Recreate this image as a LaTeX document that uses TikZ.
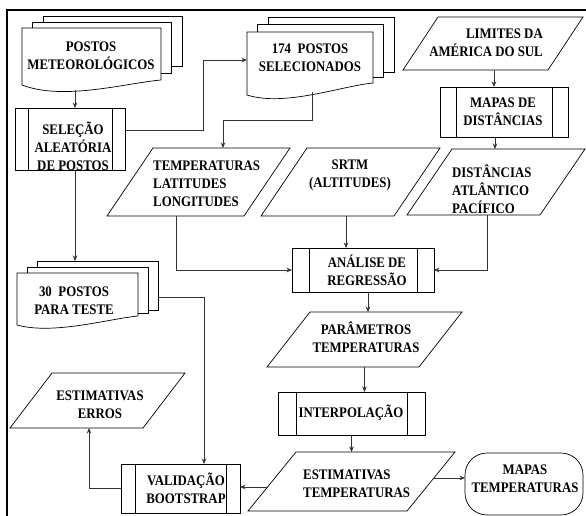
\documentclass[tikz,border=0pt]{standalone}
\usepackage{fontspec}
\setmainfont{Liberation Serif}[FakeStretch=0.88]
\usetikzlibrary{calc,arrows.meta}
\tikzset{
 ln/.style={draw=black, line width=0.7pt},
 shp/.style={inner sep=0pt, outer sep=0pt},
 txt/.style={inner sep=0pt, font=\bfseries\fontsize{14.6}{18}\selectfont},
 arr/.style={draw=black!80, line width=0.6pt, -{Stealth[length=5.5pt,width=4.5pt]}},
}
% multi-document outline: name, dx, dy, right drop, step, wave depth
\newcommand\mdoc[6]{%
 \draw[ln] ([xshift=2*#2,yshift=#3]#1.north west) -- ([xshift=2*#2,yshift=2*#3]#1.north west) -- ([xshift=2*#2,yshift=2*#3]#1.north east) -- ([xshift=2*#2,yshift=#4+2*#5]#1.south east) -- ([xshift=#2,yshift=#4+2*#5]#1.south east);
 \draw[ln] ([xshift=#2]#1.north west) -- ([xshift=#2,yshift=#3]#1.north west) -- ([xshift=#2,yshift=#3]#1.north east) -- ([xshift=#2,yshift=#4+#5]#1.south east) -- ([yshift=#4+#5]#1.south east);
 \draw[ln] (#1.north west) -- (#1.north east) -- ([yshift=#4]#1.south east)
   .. controls ($(#1.south west)!0.75!(#1.south east)+(0pt,#4-3pt)$) and ($(#1.south west)!0.3!(#1.south east)+(0pt,-#6)$) .. (#1.south west) -- cycle;}
% parallelogram outline: name, slant
\newcommand\para[2]{%
 \draw[ln] ([xshift=#2]#1.north west) -- (#1.north east) -- ([xshift=-#2]#1.south east) -- (#1.south west) -- cycle;}
% predefined process bars: name, offset
\newcommand\proc[2]{%
 \draw[ln] ([xshift=#2]#1.north west) -- ([xshift=#2]#1.south west);
 \draw[ln] ([xshift=-#2]#1.north east) -- ([xshift=-#2]#1.south east);}
\begin{document}
\begin{tikzpicture}[x=1pt,y=-1pt]
\useasboundingbox (0,0) rectangle (586,516);
\fill[white] (0,0) rectangle (586,516);
\draw[line width=2pt] (7,518) -- (7,10) -- (588,10);

% shapes
\node[shp, minimum width=139pt, minimum height=57pt] (A) at (91.5,56.5) {};
\mdoc{A}{10.5pt}{6pt}{5pt}{7pt}{16pt}
\node[txt, align=center] (At) at (91,56) {POSTOS\\METEOROLÓGICOS};

\node[shp, ln, minimum width=110pt, minimum height=62pt] (B) at (70,139) {};
\proc{B}{13pt}
\node[txt, align=center] (Bt) at (73,146) {SELEÇÃO\\ALEATÓRIA\\DE POSTOS};

\node[shp, minimum width=126pt, minimum height=63pt] (C) at (310,63.5) {};
\mdoc{C}{10.5pt}{7.5pt}{12pt}{5.5pt}{12pt}
\node[txt, align=center] (Ct) at (310,58) {174\hspace{0.45em}POSTOS\\SELECIONADOS};

\node[shp, minimum width=183pt, minimum height=68pt] (D) at (198.5,182) {};
\para{D}{46pt}
\node[txt, align=left, anchor=west] (Dt) at (153,184) {TEMPERATURAS\\LATITUDES\\LONGITUDES};

\node[shp, minimum width=179pt, minimum height=68pt] (E) at (350.5,182) {};
\para{E}{46pt}
\node[txt, align=center] (Et) at (350,175) {SRTM\\(ALTITUDES)};

\node[shp, minimum width=178pt, minimum height=66pt] (F) at (496,182) {};
\para{F}{45pt}
\node[txt, align=left, anchor=west] (Ft) at (452,189) {DISTÂNCIAS\\ATLÂNTICO\\PACÍFICO};

\node[shp, minimum width=180pt, minimum height=53pt] (G) at (493,43.5) {};
\para{G}{35pt}
\node[txt, align=right, anchor=east] (Gt) at (543,43) {LIMITES DA\\AMÉRICA DO SUL};

\node[shp, ln, minimum width=128pt, minimum height=50pt] (H) at (504,112) {};
\proc{H}{16pt}
\node[txt, align=center] (Ht) at (503,112) {MAPAS DE\\DISTÂNCIAS};

\node[shp, ln, minimum width=142pt, minimum height=44pt] (L) at (363,270) {};
\proc{L}{17pt}
\node[txt, align=center] (Lt) at (367,270) {ANÁLISE DE\\REGRESSÃO};

\node[shp, minimum width=195pt, minimum height=55pt] (M) at (364.5,339.5) {};
\para{M}{43pt}
\node[txt, align=center] (Mt) at (366,337) {PARÂMETROS\\TEMPERATURAS};

\node[shp, ln, minimum width=147pt, minimum height=43pt] (N) at (351.5,413.5) {};
\proc{N}{18pt}
\node[txt, align=center] (Nt) at (351,413) {INTERPOLAÇÃO};

\node[shp, minimum width=207pt, minimum height=59pt] (O) at (351.5,481.5) {};
\para{O}{48pt}
\node[txt, align=left, anchor=west] (Ot) at (303,484) {ESTIMATIVAS\\TEMPERATURAS};

\node[shp, ln, rounded corners=22pt, minimum width=118pt, minimum height=62pt] (P) at (524,484) {};
\node[txt, align=center] (Pt) at (525,479) {MAPAS\\TEMPERATURAS};

\node[shp, minimum width=121pt, minimum height=52pt] (I) at (77.5,299) {};
\mdoc{I}{10pt}{6pt}{9pt}{3pt}{10pt}
\node[txt, align=center] (It) at (74,300.5) {30\hspace{0.45em}POSTOS\\PARA TESTE};

\node[shp, ln, minimum width=119pt, minimum height=49pt] (J) at (180.5,488.5) {};
\proc{J}{14pt}
\node[txt, align=center] (Jt) at (186,488) {VALIDAÇÃO\\BOOTSTRAP};

\node[shp, minimum width=175pt, minimum height=55pt] (K) at (97.5,400.5) {};
\para{K}{42pt}
\node[txt, align=center] (Kt) at (100,405) {ESTIMATIVAS\\ERROS};

% connectors
\coordinate (a1) at ([xshift=-16.5pt,yshift=-5pt]A.south);
\draw[arr] (a1) -- (a1 |- B.north);

\coordinate (b1) at ([yshift=9pt]B.east);
\coordinate (c1) at ([yshift=3.5pt]C.west);
\coordinate (bc) at ($(c1)+(-44,0)$);
\draw[arr] (b1) -| (bc) -- (c1);

\coordinate (c2) at ([xshift=2pt,yshift=3pt]C.south);
\coordinate (j1) at (223,120);
\draw[arr] (c2) |- (j1) -- (j1 |- D.north);

\coordinate (d1) at ([xshift=-22.5pt]D.south);
\draw[arr] (d1) |- (L.west);

\coordinate (e1) at ([xshift=-4.5pt]E.south);
\draw[arr] (e1) -- (e1 |- L.north);

\coordinate (f1) at ([xshift=-9pt]F.south);
\draw[arr] (f1) |- (L.east);

\coordinate (g1) at ([xshift=1pt]G.south);
\draw[arr] (g1) -- (g1 |- H.north);

\coordinate (h1) at ([xshift=-9pt]H.south);
\draw[arr] (h1) -- (h1 |- F.north);

\coordinate (l1) at ([xshift=5pt]L.south);
\draw[arr] (l1) -- (l1 |- M.north);

\draw[arr] (M.south) -- (M.south |- N.north);
\draw[arr] (N.south) -- (N.south |- O.north);

\coordinate (oe) at ($(O.north east)!0.44!([xshift=-48pt]O.south east)$);
\draw[arr] (oe) -- (oe -| P.west);

\coordinate (ow) at ($([xshift=48pt]O.north west)!0.593!(O.south west)$);
\draw[arr] (ow) -- (ow -| J.east);

\coordinate (b2) at ([xshift=5pt]B.south);
\coordinate (i0) at ([yshift=12pt]I.north);
\draw[arr] (b2) -- (b2 |- i0);

\coordinate (i1) at ([xshift=20pt,yshift=2pt]I.east);
\draw[arr] (i1) -| ([xshift=23.5pt]J.north);

\draw[arr] (J.west) -| ([xshift=-8.5pt]K.south);
\end{tikzpicture}
\end{document}
